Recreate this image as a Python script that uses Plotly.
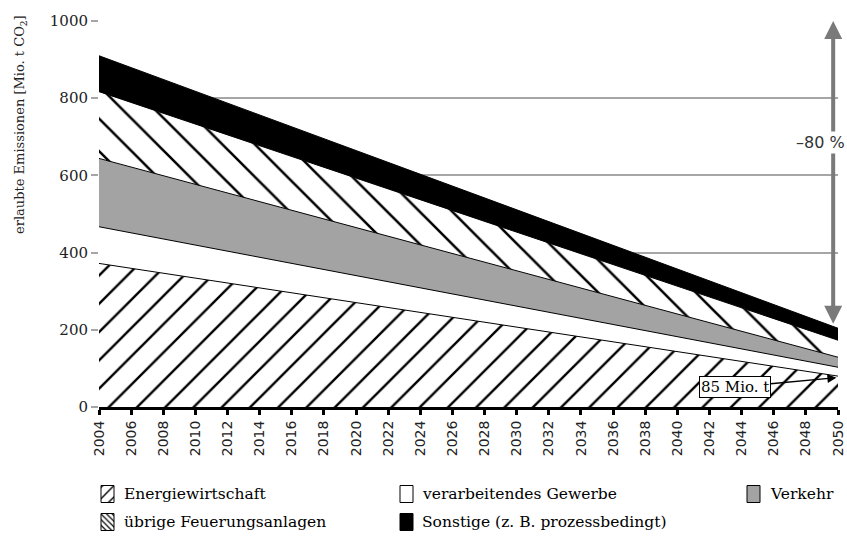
import plotly.graph_objects as go

years = [2004, 2050]
energie = [372, 80]
gewerbe = [95, 23]
verkehr = [177, 26]
uebrige = [173, 44]
sonstige = [93, 31]

names = ["Energiewirtschaft", "verarbeitendes Gewerbe", "Verkehr",
         "übrige Feuerungsanlagen", "Sonstige (z. B. prozessbedingt)"]
xticks = list(range(2004, 2051, 2))
yticks = [0, 200, 400, 600, 800, 1000]

SERIF = "DejaVu Serif"
SANS = "DejaVu Sans"
W, H = 847, 536
GRAY = "#a3a3a3"

fig = go.Figure()

series = [energie, gewerbe, verkehr, uebrige, sonstige]
styles = [
    dict(fillpattern=dict(shape="/", bgcolor="white", fgcolor="black", fgopacity=1,
                          size=20, solidity=0.12), fillcolor="white"),
    dict(fillcolor="white"),
    dict(fillcolor=GRAY),
    dict(fillpattern=dict(shape="\\", bgcolor="white", fgcolor="black", fgopacity=1,
                          size=23, solidity=0.11), fillcolor="white"),
    dict(fillcolor="black"),
]
for name, vals, st in zip(names, series, styles):
    fig.add_trace(go.Scatter(
        x=years, y=vals, name=name, mode="lines", stackgroup="one",
        line=dict(color="black", width=1), showlegend=False, hoverinfo="skip", **st))

# ---- manual legend drawn on a pixel-space overlay axis (x2/y2) ----
leg_styles = [
    dict(fillpattern=dict(shape="/", bgcolor="white", fgcolor="black", fgopacity=1, size=8, solidity=0.18), fillcolor="white"),
    dict(fillcolor="white"),
    dict(fillcolor=GRAY),
    dict(fillpattern=dict(shape="\\", bgcolor="white", fgcolor="black", fgopacity=1, size=4, solidity=0.3), fillcolor="white"),
    dict(fillcolor="black"),
]
leg_pos = [(101, 494, 122), (400, 494, 420), (747, 494, 768), (101, 522, 122), (400, 522, 420)]
SW, SH = 13, 17
for name, st, (sx, sy, tx) in zip(names, leg_styles, leg_pos):
    fig.add_trace(go.Scatter(
        x=[sx, sx + SW, sx + SW, sx, sx], y=[sy - SH / 2, sy - SH / 2, sy + SH / 2, sy + SH / 2, sy - SH / 2],
        mode="lines", fill="toself", line=dict(color="black", width=1),
        xaxis="x2", yaxis="y2", showlegend=False, hoverinfo="skip", **st))
    fig.add_annotation(xref="x2", yref="y2", x=tx, y=sy, text=name, showarrow=False,
                       xanchor="left", yanchor="middle",
                       font=dict(family=SERIF, size=15.5, color="black"))

fig.update_layout(
    width=W, height=H, autosize=False,
    margin=dict(l=0, r=0, t=0, b=0),
    plot_bgcolor="rgba(0,0,0,0)", paper_bgcolor="white",
    showlegend=False,
    xaxis=dict(domain=[99 / W, 838 / W], range=[2004, 2050], tickvals=xticks,
               ticktext=[str(t) for t in xticks],
               tickangle=-90, tickfont=dict(family=SANS, size=14, color="#222"),
               showline=True, linecolor="black", linewidth=3,
               ticks="outside", tickcolor="black", tickwidth=3, ticklen=5,
               showgrid=False, zeroline=False, automargin=False),
    yaxis=dict(domain=[(H - 407) / H, (H - 21) / H], range=[0, 1000], tickvals=yticks,
               ticktext=[str(t) for t in yticks],
               tickfont=dict(family=SERIF, size=15, color="#222"),
               showgrid=True, gridcolor="#a6a6a6", gridwidth=2,
               ticks="outside", tickcolor="#a6a6a6", tickwidth=2, ticklen=7,
               showline=False, zeroline=False, automargin=False),
    xaxis2=dict(domain=[0, 1], range=[0, W], visible=False, anchor="y2", fixedrange=True),
    yaxis2=dict(domain=[0, 1], range=[H, 0], visible=False, anchor="x2", fixedrange=True),
)

# y-axis title
fig.add_annotation(xref="paper", yref="paper", x=20 / W, y=1 - 125 / H,
                   xanchor="center", yanchor="middle",
                   text="erlaubte Emissionen [Mio. t CO<sub>2</sub>]", textangle=-90,
                   showarrow=False, font=dict(family=SERIF, size=13, color="#222"))

# -80 % arrow
fig.add_annotation(x=2049.7, y=1000, ax=2049.7, ay=212, xref="x", yref="y",
                   axref="x", ayref="y", text="", showarrow=True,
                   arrowside="end+start", arrowhead=2, arrowsize=0.9,
                   arrowwidth=4, arrowcolor="#7a7a7a")
fig.add_annotation(x=2048.9, y=684, xref="x", yref="y", text="–80 %", showarrow=False,
                   bgcolor="white", font=dict(family=SANS, size=16, color="#333"))

# 85 Mio. t annotation
fig.add_annotation(x=2049.9, y=76, ax=2043.6, ay=52, xref="x", yref="y",
                   axref="x", ayref="y", text="85 Mio. t", showarrow=True,
                   arrowhead=2, arrowsize=1.2, arrowwidth=1.5, arrowcolor="black",
                   bgcolor="white", bordercolor="black", borderwidth=1, borderpad=1,
                   font=dict(family=SERIF, size=15, color="black"))

fig.write_html("out.html", config={"displayModeBar": False},
               post_script="document.body.style.margin='0';document.body.style.overflow='hidden';")
